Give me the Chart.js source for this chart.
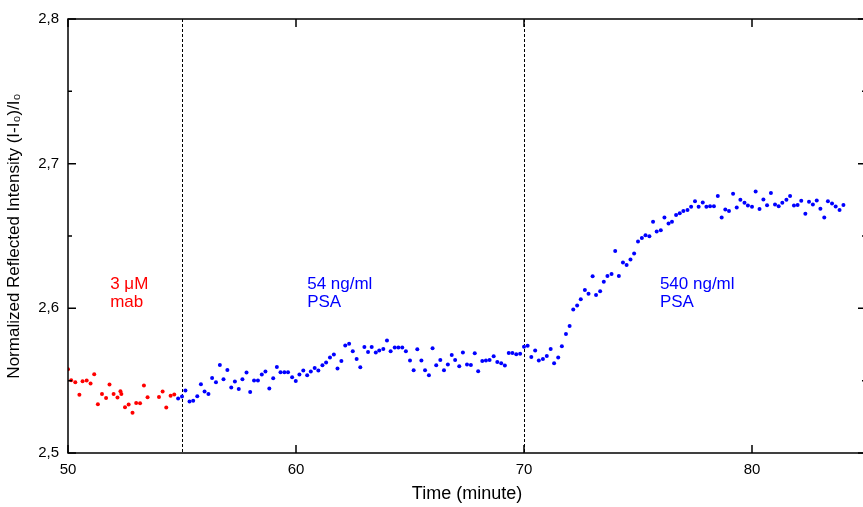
<!DOCTYPE html>
<html lang="en">
<head>
<meta charset="UTF-8">
<title>Reflected intensity vs time</title>
<script src="https://cdn.jsdelivr.net/npm/chart.js"></script>
<style>
  body { margin: 0; background: #fff; overflow: hidden; }
  .wrap { width: 870px; height: 507px; }
</style>
</head>
<body>
<div class="wrap"><canvas id="signalChart" width="870" height="507"></canvas></div>
<script>
// baseline with 3 uM mab (red), then PSA additions (blue)
const mabTime = [50.00, 50.14, 50.32, 50.50, 50.64, 50.82, 50.99, 51.15, 51.31, 51.49,
  51.67, 51.82, 52.00, 52.17, 52.30, 52.34, 52.50, 52.66, 52.83, 52.99,
  53.16, 53.33, 53.49, 53.99, 54.15, 54.31, 54.50, 54.66];
const mabSignal = [2.5579, 2.5503, 2.5489, 2.5403, 2.5496, 2.5501, 2.5480, 2.5544, 2.5337, 2.5408,
  2.5380, 2.5473, 2.5408, 2.5383, 2.5427, 2.5408, 2.5316, 2.5335, 2.5279, 2.5346,
  2.5344, 2.5466, 2.5385, 2.5387, 2.5425, 2.5314, 2.5396, 2.5404];

const psaTime = [54.83, 55.00, 55.15, 55.33, 55.49, 55.67, 55.83, 55.99, 56.16, 56.32,
  56.49, 56.66, 56.82, 56.99, 57.16, 57.32, 57.49, 57.65, 57.83, 57.99,
  58.16, 58.33, 58.50, 58.66, 58.83, 59.00, 59.16, 59.32, 59.49, 59.65,
  59.83, 59.99, 60.15, 60.32, 60.49, 60.65, 60.82, 60.98, 61.16, 61.32,
  61.49, 61.66, 61.82, 61.99, 62.16, 62.33, 62.49, 62.66, 62.82, 63.00,
  63.16, 63.32, 63.50, 63.65, 63.83, 63.99, 64.15, 64.33, 64.49, 64.66,
  64.82, 65.00, 65.16, 65.32, 65.50, 65.66, 65.83, 65.99, 66.15, 66.33,
  66.49, 66.66, 66.83, 66.98, 67.16, 67.32, 67.50, 67.67, 67.84, 67.99,
  68.17, 68.33, 68.49, 68.67, 68.83, 69.00, 69.16, 69.33, 69.49, 69.66,
  69.83, 70.00, 70.16, 70.32, 70.49, 70.65, 70.83, 71.00, 71.17, 71.32,
  71.50, 71.66, 71.84, 72.00, 72.16, 72.33, 72.49, 72.67, 72.83, 73.01,
  73.16, 73.34, 73.50, 73.66, 73.84, 74.00, 74.16, 74.34, 74.50, 74.67,
  74.83, 75.00, 75.17, 75.33, 75.50, 75.66, 75.82, 76.00, 76.16, 76.34,
  76.49, 76.67, 76.83, 76.99, 77.17, 77.33, 77.50, 77.66, 77.84, 78.00,
  78.16, 78.33, 78.50, 78.67, 78.83, 78.99, 79.17, 79.33, 79.49, 79.67,
  79.82, 80.00, 80.16, 80.33, 80.50, 80.66, 80.83, 81.01, 81.17, 81.33,
  81.51, 81.67, 81.84, 82.00, 82.16, 82.34, 82.50, 82.67, 82.84, 83.00,
  83.17, 83.33, 83.51, 83.67, 83.84, 84.01];
const psaSignal = [2.5376, 2.5390, 2.5432, 2.5356, 2.5362, 2.5392, 2.5475, 2.5425, 2.5408, 2.5519,
  2.5489, 2.5609, 2.5510, 2.5574, 2.5452, 2.5494, 2.5443, 2.5510, 2.5556, 2.5422,
  2.5501, 2.5501, 2.5542, 2.5563, 2.5445, 2.5517, 2.5595, 2.5558, 2.5558, 2.5558,
  2.5524, 2.5498, 2.5542, 2.5570, 2.5537, 2.5563, 2.5588, 2.5570, 2.5607, 2.5625,
  2.5660, 2.5681, 2.5584, 2.5636, 2.5743, 2.5755, 2.5703, 2.5650, 2.5593, 2.5733,
  2.5699, 2.5733, 2.5694, 2.5708, 2.5719, 2.5777, 2.5703, 2.5729, 2.5729, 2.5729,
  2.5703, 2.5639, 2.5572, 2.5717, 2.5639, 2.5572, 2.5537, 2.5724, 2.5607, 2.5643,
  2.5572, 2.5611, 2.5678, 2.5643, 2.5600, 2.5694, 2.5611, 2.5609, 2.5690, 2.5565,
  2.5636, 2.5639, 2.5643, 2.5669, 2.5629, 2.5620, 2.5605, 2.5692, 2.5692, 2.5683,
  2.5686, 2.5735, 2.5742, 2.5664, 2.5708, 2.5639, 2.5650, 2.5671, 2.5719, 2.5620,
  2.5660, 2.5738, 2.5823, 2.5878, 2.5992, 2.6020, 2.6063, 2.6127, 2.6100, 2.6222,
  2.6093, 2.6118, 2.6183, 2.6224, 2.6238, 2.6397, 2.6224, 2.6317, 2.6300, 2.6338,
  2.6379, 2.6462, 2.6487, 2.6506, 2.6499, 2.6598, 2.6531, 2.6540, 2.6628, 2.6587,
  2.6598, 2.6646, 2.6658, 2.6672, 2.6679, 2.6702, 2.6741, 2.6702, 2.6732, 2.6702,
  2.6706, 2.6706, 2.6776, 2.6628, 2.6684, 2.6672, 2.6792, 2.6697, 2.6750, 2.6729,
  2.6711, 2.6702, 2.6808, 2.6686, 2.6753, 2.6713, 2.6798, 2.6718, 2.6706, 2.6729,
  2.6750, 2.6776, 2.6711, 2.6715, 2.6743, 2.6653, 2.6736, 2.6718, 2.6746, 2.6688,
  2.6628, 2.6741, 2.6725, 2.6704, 2.6679, 2.6715];

// moments when the solution was changed
const injectionTimes = [55, 70];

const timeTicks = [50, 60, 70, 80];
const signalTicks = [2.5, 2.6, 2.7, 2.8];
const signalMinorTicks = [2.55, 2.65, 2.75];

const RED = '#ff0000';
const BLUE = '#0000ff';
const FONT = "'Liberation Sans', Arial, sans-serif";

const notes = [
  { t: 51.85, v: 2.6132, lines: ['3 \u03bcM', 'mab'], color: RED },
  { t: 60.49, v: 2.6132, lines: ['54 ng/ml', 'PSA'], color: BLUE },
  { t: 75.96, v: 2.6132, lines: ['540 ng/ml', 'PSA'], color: BLUE }
];

const toPoints = (xs, ys) => xs.map((x, i) => ({ x: x, y: ys[i] }));

// box, inward ticks, dashed markers and the text labels
const frame = {
  id: 'frame',
  beforeDatasetsDraw(chart) {
    const { ctx, chartArea: a, scales: { x } } = chart;
    ctx.save();
    ctx.strokeStyle = '#000';
    ctx.lineWidth = 1;
    ctx.setLineDash([3, 2]);
    injectionTimes.forEach(t => {
      const px = Math.round(x.getPixelForValue(t)) + 0.5;
      ctx.beginPath();
      ctx.moveTo(px, a.top);
      ctx.lineTo(px, a.bottom);
      ctx.stroke();
    });
    ctx.restore();
  },
  afterDatasetsDraw(chart) {
    const { ctx, chartArea: a, scales: { x, y } } = chart;
    ctx.save();
    ctx.strokeStyle = '#000';
    ctx.lineWidth = 1.5;
    ctx.strokeRect(a.left, a.top, a.right - a.left, a.bottom - a.top);
    ctx.beginPath();
    x.ticks.forEach(tk => {
      const px = x.getPixelForValue(tk.value);
      ctx.moveTo(px, a.bottom); ctx.lineTo(px, a.bottom - 8);
      ctx.moveTo(px, a.top); ctx.lineTo(px, a.top + 8);
    });
    y.ticks.forEach(tk => {
      const len = signalTicks.includes(tk.value) ? 8 : 4;
      const py = y.getPixelForValue(tk.value);
      ctx.moveTo(a.left, py); ctx.lineTo(a.left + len, py);
      ctx.moveTo(a.right, py); ctx.lineTo(a.right - len, py);
    });
    ctx.stroke();

    ctx.font = '17px ' + FONT;
    ctx.textAlign = 'left';
    ctx.textBaseline = 'alphabetic';
    notes.forEach(n => {
      const px = x.getPixelForValue(n.t);
      const py = y.getPixelForValue(n.v);
      ctx.fillStyle = n.color;
      n.lines.forEach((line, i) => ctx.fillText(line, px, py + i * 18));
    });
    ctx.restore();
  }
};

Chart.defaults.font.family = FONT;
Chart.defaults.color = '#000';

new Chart(document.getElementById('signalChart'), {
  type: 'scatter',
  data: {
    datasets: [
      {
        label: 'mab',
        data: toPoints(mabTime, mabSignal),
        backgroundColor: RED,
        borderWidth: 0,
        pointRadius: 2
      },
      {
        label: 'PSA',
        data: toPoints(psaTime, psaSignal),
        backgroundColor: BLUE,
        borderWidth: 0,
        pointRadius: 2
      }
    ]
  },
  options: {
    responsive: false,
    animation: false,
    layout: { padding: { top: 19, right: 4, left: 0, bottom: 0 } },
    plugins: {
      legend: { display: false },
      tooltip: { enabled: false }
    },
    scales: {
      x: {
        type: 'linear',
        min: 50,
        max: 85,
        afterBuildTicks: s => { s.ticks = timeTicks.map(v => ({ value: v })); },
        afterFit: s => { s.height = 54; },
        grid: { display: false, drawTicks: false },
        border: { display: false },
        ticks: { font: { size: 15 }, padding: 8, maxRotation: 0, color: '#000' },
        title: {
          display: true,
          text: 'Time (minute)',
          font: { size: 18 },
          color: '#000',
          padding: { top: 2, bottom: 2 }
        }
      },
      y: {
        min: 2.5,
        max: 2.8,
        afterBuildTicks: s => {
          s.ticks = signalTicks.concat(signalMinorTicks)
            .sort((p, q) => p - q)
            .map(v => ({ value: v }));
        },
        afterFit: s => { s.width = 68; },
        grid: { display: false, drawTicks: false },
        border: { display: false },
        ticks: {
          font: { size: 15 },
          padding: 9,
          color: '#000',
          callback: v => signalTicks.includes(v) ? v.toFixed(1).replace('.', ',') : ''
        },
        title: {
          display: true,
          text: 'Normalized Reflected Intensity (I-I\u2080)/I\u2080',
          font: { size: 17 },
          color: '#000',
          padding: { top: 4, bottom: 0 }
        }
      }
    }
  },
  plugins: [frame]
});
</script>
</body>
</html>
